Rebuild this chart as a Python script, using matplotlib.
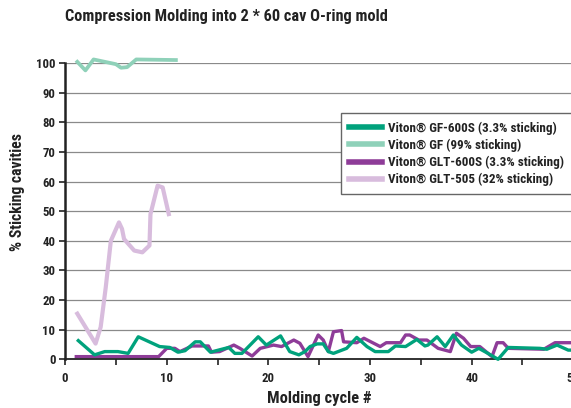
import os
import matplotlib
matplotlib.use("Agg")
import matplotlib.pyplot as plt
from matplotlib import font_manager as fm
from matplotlib.font_manager import FontProperties

# ---- pick a bold condensed font if one is installed ----
def pick_font():
    prefs = ["liberationsansnarrow-bold.", "robotocondensed-bold.", "dejavusanscondensed-bold.",
             "opensanscondensed-bold", "opensans_condensed-bold", "notosans-condensedbold."]
    files = [f.fname for f in fm.fontManager.ttflist]
    low = {os.path.basename(p).lower(): p for p in files}
    for key in prefs:
        for k, p in low.items():
            if k.startswith(key):
                return p
    for k, p in low.items():
        if ("narrow" in k or "condensed" in k) and "bold" in k and "semi" not in k \
                and "extra" not in k and "italic" not in k and "oblique" not in k:
            return p
    return None

FPATH = pick_font()
if FPATH:
    FP = FontProperties(fname=FPATH)
else:
    FP = FontProperties(family=['DejaVu Sans'], weight='bold')

title = "Compression Molding into 2 * 60 cav O-ring mold"
xlabel = "Molding cycle #"
ylabel = "% Sticking cavities"

labels = ["Viton\u00ae GF-600S (3.3% sticking)", "Viton\u00ae GF (99% sticking)",
          "Viton\u00ae GLT-600S (3.3% sticking)", "Viton\u00ae GLT-505 (32% sticking)"]
colors = ["#00A27C", "#8FD1B9", "#8E3C98", "#D8BCDD"]

gf_x = [1.2, 2.0, 2.8, 5.0, 5.5, 6.1, 7.0, 10.9]
gf_y = [100.4, 97.5, 101.2, 99.6, 98.4, 98.6, 101.2, 101.0]

glt505_x = [1.2, 3.0, 3.5, 4.0, 4.5, 5.3, 5.6, 5.8, 6.8, 7.6, 8.3, 8.4, 9.1, 9.6, 10.2]
glt505_y = [15.4, 5.3, 10.9, 24.3, 40.0, 46.2, 44.0, 40.6, 36.7, 36.1, 38.4, 49.0, 58.6, 58.0, 49.0]

gf600_x = [1.3, 2.9, 3.9, 5.2, 6.2, 7.2, 9.3, 10.3, 11.1, 11.8, 12.8, 13.3, 14.3, 16.1, 16.7,
           17.4, 19.0, 19.8, 21.2, 22.1, 23.0, 23.6, 24.1, 24.8, 25.4, 25.9, 26.4, 27.7, 28.7,
           29.7, 30.5, 31.8, 32.5, 33.5, 34.6, 35.4, 35.7, 36.6, 37.4, 38.2, 39.0, 40.0, 40.7,
           41.5, 42.6, 43.6, 46.7, 47.4, 48.4, 49.5, 50.0]
gf600_y = [6.3, 1.5, 2.6, 2.6, 2.0, 7.6, 4.3, 4.0, 2.4, 2.9, 5.9, 5.9, 2.4, 4.0, 2.0,
           2.0, 7.6, 4.8, 7.9, 2.6, 1.5, 2.6, 4.3, 5.2, 5.2, 2.6, 2.0, 3.7, 7.4,
           4.3, 2.6, 2.6, 4.5, 4.3, 6.7, 4.5, 4.8, 7.6, 4.3, 8.2, 4.8, 2.4, 3.7,
           2.2, 0.0, 4.0, 3.7, 3.4, 4.8, 3.1, 3.1]

glt600_x = [1.1, 9.2, 10.0, 10.8, 11.3, 12.5, 14.1, 14.4, 15.2, 16.6, 17.2, 18.4, 19.2, 20.5,
            21.3, 22.5, 23.1, 23.9, 24.9, 25.4, 25.9, 26.4, 27.2, 27.4, 28.7, 29.4, 31.0, 31.6,
            33.0, 33.5, 33.9, 34.8, 35.6, 36.7, 37.9, 38.5, 39.2, 39.9, 40.8, 42.0, 42.5, 43.1,
            43.6, 47.1, 48.2, 49.4, 50.0]
glt600_y = [0.9, 0.9, 3.7, 3.7, 2.6, 4.5, 4.5, 2.4, 2.6, 4.8, 3.7, 1.1, 3.7, 4.8,
            4.3, 6.5, 5.4, 0.9, 8.2, 6.5, 2.6, 9.3, 9.7, 5.9, 5.6, 7.1, 4.3, 5.6,
            5.6, 8.2, 8.2, 6.5, 6.5, 3.7, 2.6, 8.8, 7.1, 4.3, 4.3, 0.9, 5.6, 5.6,
            3.7, 3.4, 5.6, 5.6, 5.6]

W, H = 571, 408
fig = plt.figure(figsize=(W / 100, H / 100), dpi=100)
renderer = fig.canvas.get_renderer()


def size_for(text, target_px, base=10.0):
    """font size so that text spans target_px in width"""
    t = fig.text(0, 0, text, fontproperties=FP, fontsize=base)
    w = t.get_window_extent(renderer).width
    t.remove()
    return base * target_px / w


ax = fig.add_axes([65.1 / W, (H - 359.3) / H, (573.3 - 65.1) / W, (359.3 - 63.0) / H])

for y in range(10, 101, 10):
    ax.axhline(y, color="#8a8a8a", lw=0.9, zorder=0)

l3, = ax.plot(glt600_x, glt600_y, color=colors[2], lw=2.4, clip_on=False, zorder=2, solid_joinstyle='round')
l4, = ax.plot(glt505_x, glt505_y, color=colors[3], lw=3.0, clip_on=False, zorder=3, solid_joinstyle='round')
l2, = ax.plot(gf_x, gf_y, color=colors[1], lw=2.7, clip_on=False, zorder=3, solid_joinstyle='round')
l1, = ax.plot(gf600_x, gf600_y, color=colors[0], lw=2.4, clip_on=False, zorder=4, solid_joinstyle='round')

ax.set_xlim(0, 50)
ax.set_ylim(0, 100)
ax.set_xticks(range(0, 51, 10))
ax.set_xticks(range(0, 51, 5), minor=True)
ax.set_yticks(range(0, 101, 10))

tick_fs = size_for("100", 19.5)
ax.tick_params(axis='both', which='both', direction='out', length=4, width=1.2, color='#222222',
               pad=3)
ax.tick_params(axis='x', which='major', pad=5)
for s in ['top', 'right']:
    ax.spines[s].set_visible(False)
ax.spines['left'].set_linewidth(1.8)
ax.spines['left'].set_color('#222222')
ax.spines['bottom'].set_linewidth(1.3)
ax.spines['bottom'].set_color('#222222')
for t in ax.get_xticklabels() + ax.get_yticklabels():
    t.set_fontproperties(FP)
    t.set_fontsize(tick_fs)
    t.set_color('#222222')

fig.text(65 / W, 1 - 17 / H, title, fontproperties=FP, fontsize=size_for(title, 322),
         color='#222222', ha='left', va='center')
fig.text(319 / W, 1 - 399 / H, xlabel, fontproperties=FP, fontsize=size_for(xlabel, 105),
         color='#222222', ha='center', va='center')
fig.text(18 / W, 1 - 192 / H, ylabel, fontproperties=FP, fontsize=size_for(ylabel, 119),
         color='#222222', ha='center', va='center', rotation=90)

leg_fs = size_for(labels[2], 177)
prop = FP.copy()
prop.set_size(leg_fs)
leg = ax.legend([l1, l2, l3, l4], labels, loc='upper left',
                bbox_to_anchor=(341 / W, 1 - 113.3 / H),
                bbox_transform=fig.transFigure, frameon=True, fancybox=False,
                edgecolor='#666666', framealpha=1, prop=prop,
                handlelength=33 / (leg_fs * 100 / 72), handleheight=0.7,
                handletextpad=0.42, labelspacing=0.3, borderpad=0.62,
                borderaxespad=0)
leg.get_frame().set_linewidth(1.0)
for h in leg.get_lines():
    h.set_linewidth(4.0)
for t in leg.get_texts():
    t.set_color('#222222')

fig.savefig("out.png", dpi=100)
